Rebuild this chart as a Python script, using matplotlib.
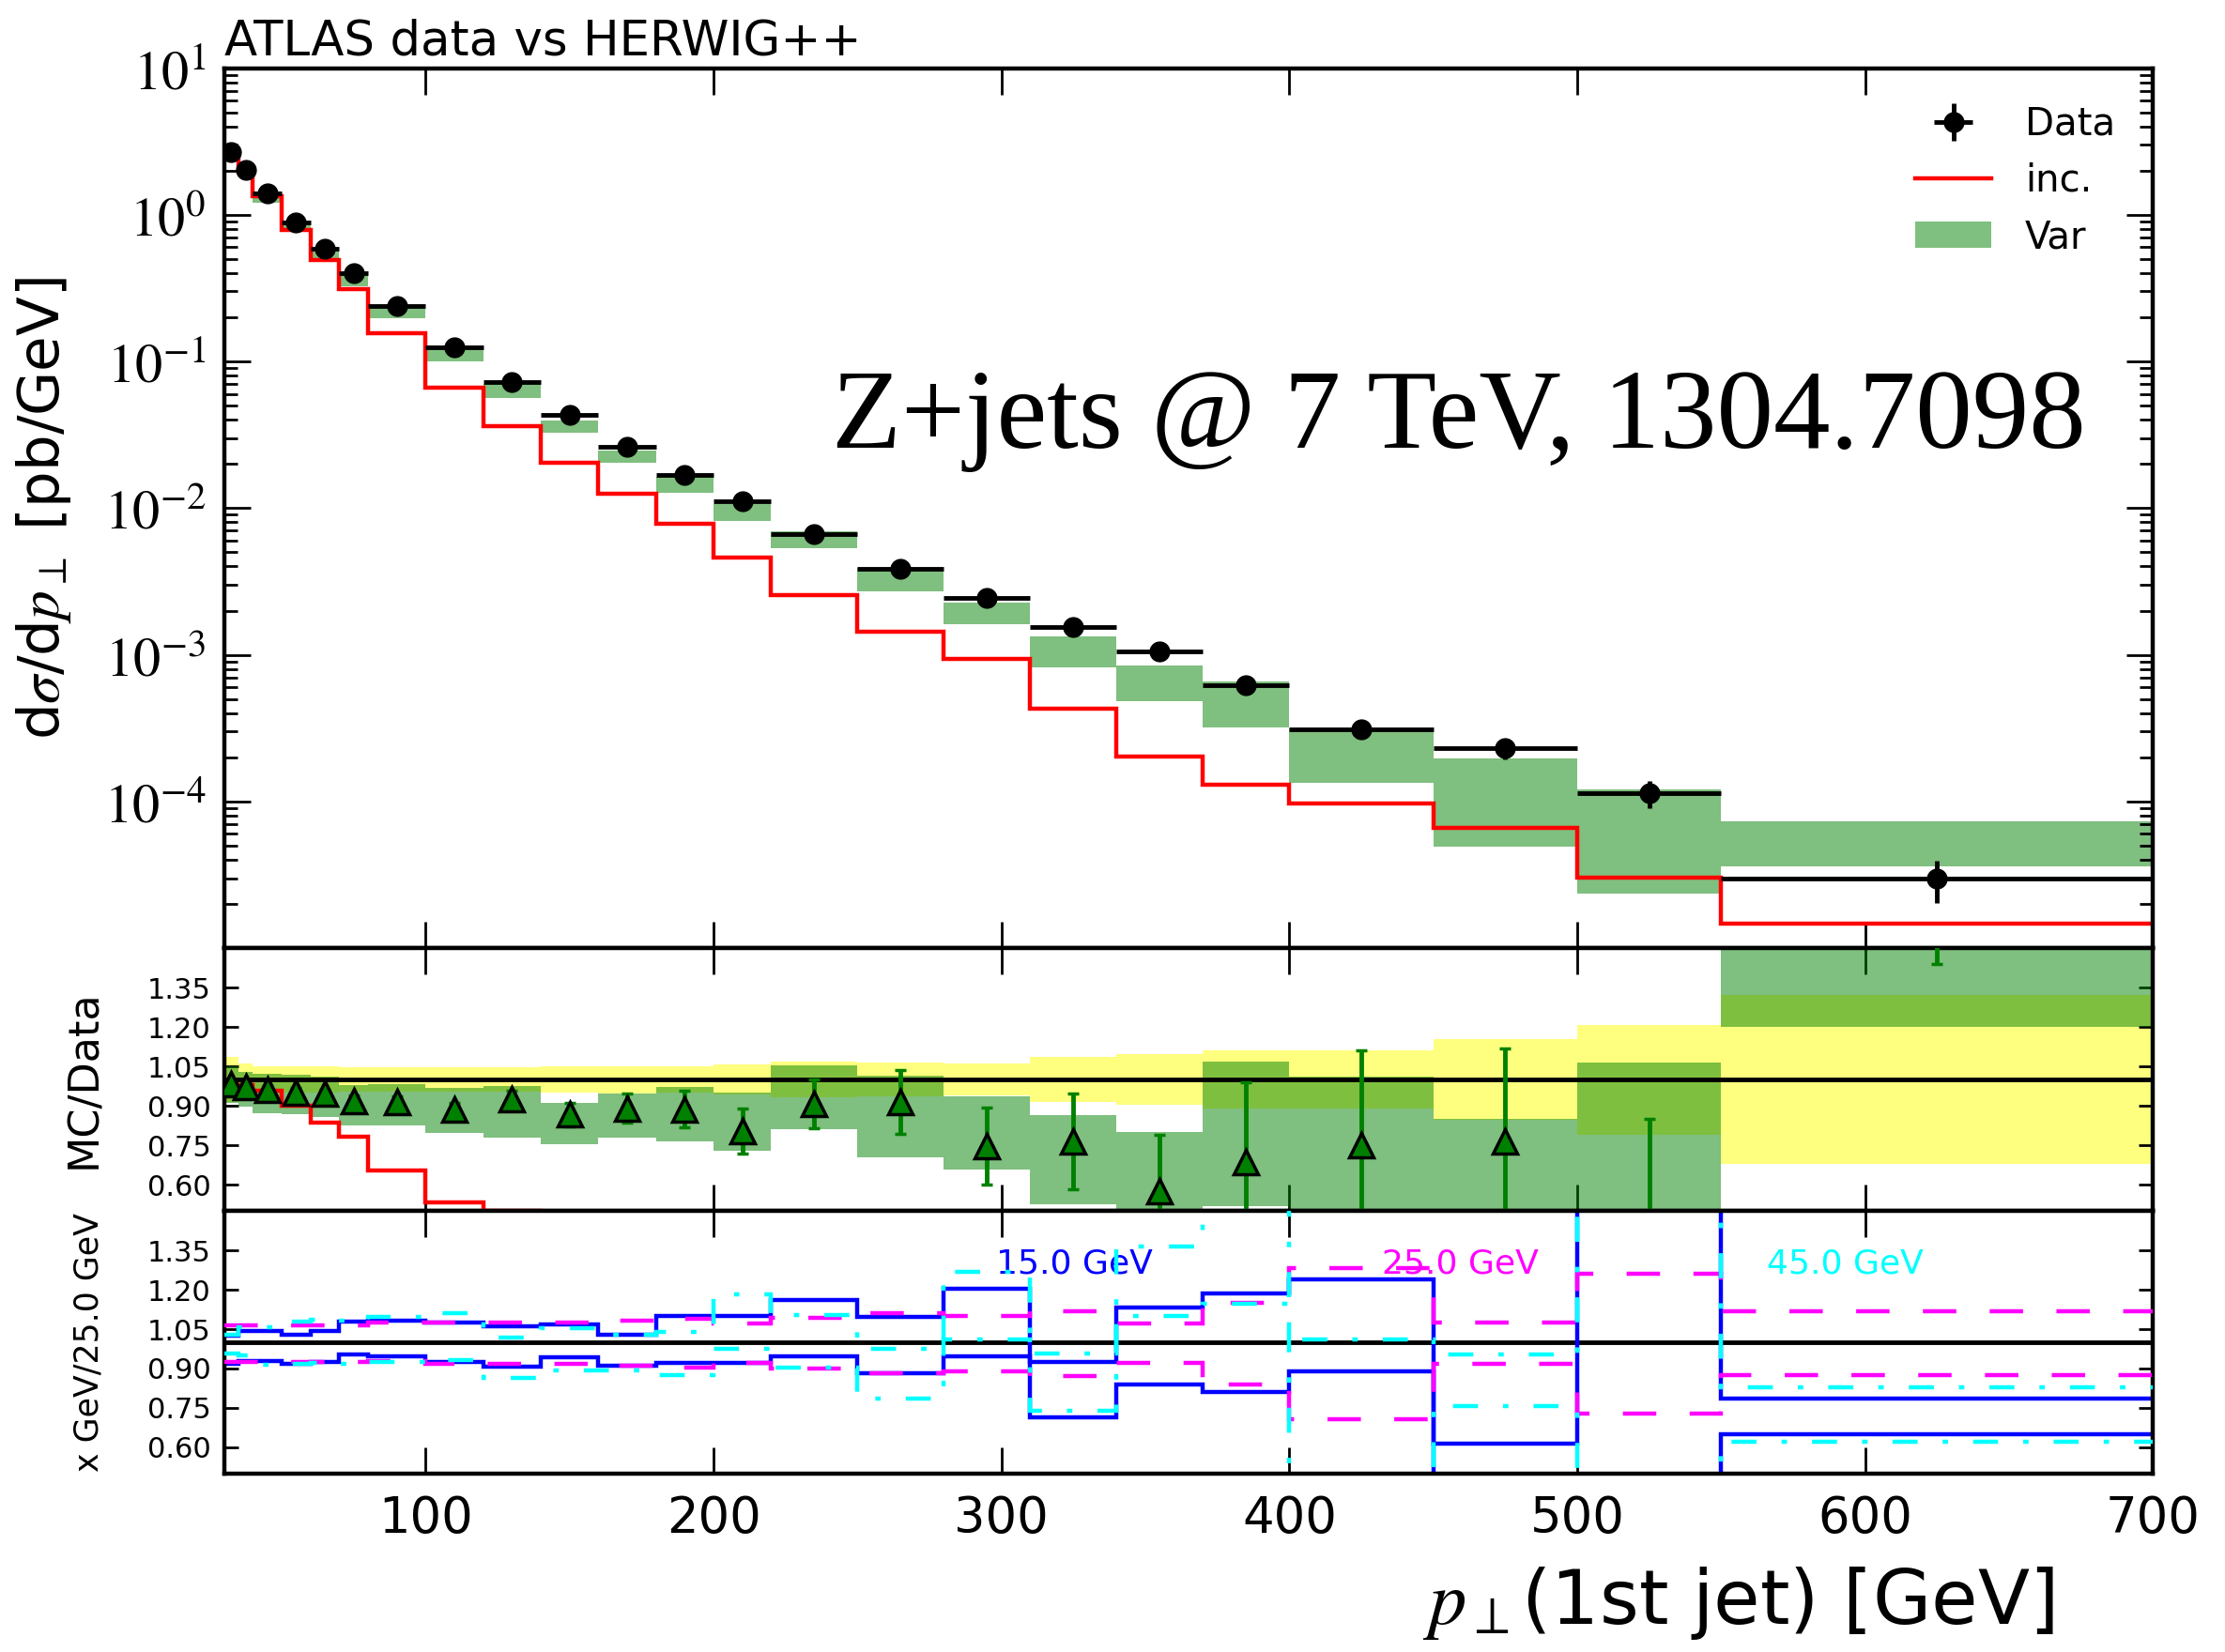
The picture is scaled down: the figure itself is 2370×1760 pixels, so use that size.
import numpy as np
import matplotlib
matplotlib.use('Agg')
import matplotlib.pyplot as plt
from matplotlib.ticker import FixedLocator, FuncFormatter, LogLocator, NullFormatter

plt.rcParams['mathtext.fontset'] = 'stix'
plt.rcParams['font.family'] = ['DejaVu Sans']

# ---------------- data ----------------
edges = [30, 35, 40, 50, 60, 70, 80, 100, 120, 140, 160, 180, 200, 220, 250,
         280, 310, 340, 370, 400, 450, 500, 550, 700]

data_y = [2.66, 2.01, 1.39, 0.88, 0.586, 0.397, 0.238, 0.125, 0.0721, 0.0432,
          0.0261, 0.0167, 0.01114, 0.0066, 0.00384, 0.00244, 0.00155, 0.001054,
          0.00062, 0.000311, 0.00023, 0.0001137, 0.0000299]
data_relerr = [0.086, 0.060, 0.052, 0.050, 0.050, 0.045, 0.045, 0.045, 0.045, 0.050,
               0.052, 0.050, 0.057, 0.068, 0.064, 0.061, 0.085, 0.096, 0.112, 0.110,
               0.154, 0.209, 0.322]

inc_y = [2.60, 1.97, 1.33, 0.792, 0.489, 0.310, 0.1556, 0.0664, 0.0361, 0.0203,
         0.0125, 0.00785, 0.00458, 0.002566, 0.001432, 0.000933, 0.000430, 0.000202,
         0.000130, 0.0000967, 0.0000658, 0.0000303, 0.0000147]

# Var band, as ratio to data (low / high edges)
var_lo_ratio = [0.911, 0.896, 0.873, 0.867, 0.858, 0.825, 0.825, 0.798, 0.780, 0.754,
                0.780, 0.765, 0.730, 0.812, 0.705, 0.658, 0.526, 0.461, 0.518, 0.428,
                0.213, 0.206, 1.20]
var_hi_ratio = [1.050, 1.030, 1.020, 1.018, 1.011, 0.979, 0.982, 0.967, 0.976, 0.911,
                0.946, 0.973, 0.950, 1.054, 1.014, 0.935, 0.865, 0.800, 1.068, 1.011,
                0.852, 1.064, 2.45]

# Var central / data (triangles) and their errors
var_c_ratio = [0.982, 0.970, 0.962, 0.952, 0.945, 0.919, 0.914, 0.887, 0.926, 0.867,
               0.890, 0.887, 0.804, 0.908, 0.914, 0.746, 0.764, 0.574, 0.685, 0.75,
               0.764, 0.44, 1.73]
var_c_err = [0.010, 0.012, 0.012, 0.015, 0.017, 0.020, 0.022, 0.025, 0.030, 0.044,
             0.055, 0.070, 0.085, 0.094, 0.121, 0.146, 0.182, 0.216, 0.305, 0.361,
             0.355, 0.41, 0.29]

# scale variations (ratio to 25.0 GeV)
r15_up = [1.024, 1.042, 1.042, 1.027, 1.042, 1.077, 1.081, 1.074, 1.062, 1.069,
          1.030, 1.101, 1.101, 1.161, 1.095, 1.205, 0.926, 1.131, 1.185, 1.240,
          0.613, 1.70, 0.786]
r15_dn = [0.917, 0.929, 0.929, 0.919, 0.926, 0.952, 0.945, 0.926, 0.908, 0.943,
          0.911, 0.920, 0.920, 0.946, 0.881, 0.946, 0.714, 0.839, 0.812, 0.889,
          0.30, 0.30, 0.651]
r25_up = [1.065, 1.065, 1.065, 1.065, 1.065, 1.065, 1.074, 1.075, 1.075, 1.075,
          1.081, 1.089, 1.071, 1.093, 1.110, 1.099, 1.119, 1.071, 1.149, 1.283,
          1.074, 1.262, 1.117]
r25_dn = [0.925, 0.925, 0.925, 0.925, 0.925, 0.925, 0.929, 0.917, 0.917, 0.917,
          0.911, 0.905, 0.920, 0.899, 0.881, 0.890, 0.873, 0.920, 0.839, 0.708,
          0.917, 0.729, 0.874]
r45_up = [1.030, 1.057, 1.057, 1.077, 1.086, 1.081, 1.095, 1.110, 1.018, 1.054,
          1.030, 1.039, 1.181, 1.105, 0.976, 1.268, 0.958, 1.363, 1.70, 1.010,
          0.952, 1.70, 0.827]
r45_dn = [0.958, 0.950, 0.913, 0.917, 0.923, 0.917, 0.926, 0.931, 0.863, 0.893,
          0.893, 0.875, 0.976, 0.905, 0.786, 1.012, 0.738, 1.101, 1.146, 0.30,
          0.756, 0.30, 0.621]

yticks_ratio = [0.60, 0.75, 0.90, 1.05, 1.20, 1.35]
xticks = [100, 200, 300, 400, 500, 600, 700]

# ---------------- derived ----------------
e = np.array(edges, float)
cen = 0.5 * (e[1:] + e[:-1])
hw = 0.5 * (e[1:] - e[:-1])
dy = np.array(data_y)
rel = np.array(data_relerr)
inc = np.array(inc_y)
vlo = np.array(var_lo_ratio)
vhi = np.array(var_hi_ratio)

fig = plt.figure(figsize=(23.7, 17.6), dpi=100)
L, W = 0.1007, 0.8670
ax0 = fig.add_axes([L, 0.4261, W, 0.5327])
ax1 = fig.add_axes([L, 0.2670, W, 0.1591])
ax2 = fig.add_axes([L, 0.1080, W, 0.1590])

# ---- main panel ----
ax0.stairs(dy * vhi, e, baseline=dy * vlo, fill=True, color='green', alpha=0.5,
           lw=0, label='Var', zorder=1)
ax0.stairs(inc, e, baseline=None, color='red', lw=3.2, label='inc.', zorder=2)
ax0.errorbar(cen, dy, xerr=hw, yerr=dy * rel, fmt='o', color='black', ms=15,
             elinewidth=3.5, capsize=0, label='Data', zorder=3)
ax0.set_yscale('log')
ax0.set_xlim(30, 700)
ax0.set_ylim(1e-5, 10)
ax0.yaxis.set_major_locator(LogLocator(base=10, numticks=20))
ax0.yaxis.set_minor_locator(LogLocator(base=10, subs=np.arange(2, 10), numticks=20))


def logfmt(v, p):
    k = int(round(np.log10(v)))
    if k < -4:
        return ''
    return r'$10^{%d}$' % k


ax0.yaxis.set_major_formatter(FuncFormatter(logfmt))
ax0.yaxis.set_minor_formatter(NullFormatter())
ax0.set_ylabel(r'd$\sigma$/d$p_\perp$ [pb/GeV]', fontsize=44)
ax0.yaxis.set_label_coords(-0.078, 0.5)
ax0.set_title('ATLAS data vs HERWIG++', loc='left', fontsize=37, pad=10)
ax0.text(0.965, 0.60, 'Z+jets @ 7 TeV, 1304.7098', transform=ax0.transAxes,
         ha='right', va='center', fontsize=87, family='Liberation Serif')
h, l = ax0.get_legend_handles_labels()
order = [l.index('Data'), l.index('inc.'), l.index('Var')]
ax0.legend([h[i] for i in order], [l[i] for i in order], loc='upper right',
           frameon=False, fontsize=29, handlelength=2.0, borderaxespad=0.6,
           labelspacing=0.5, handletextpad=0.9)

# ---- ratio panel ----
ax1.stairs(1 + rel, e, baseline=1 - rel, fill=True, color='yellow', alpha=0.5, lw=0, zorder=1)
ax1.stairs(vhi, e, baseline=vlo, fill=True, color='green', alpha=0.5, lw=0, zorder=2)
ax1.axhline(1.0, color='black', lw=3.5, zorder=3)
ax1.stairs(inc / dy, e, baseline=None, color='red', lw=3.2, zorder=4)
ax1.errorbar(cen, var_c_ratio, yerr=var_c_err, fmt='^', mfc='green', mec='black',
             mew=2.5, ms=19, ecolor='green', elinewidth=3.5, capsize=4, capthick=3, zorder=5)
ax1.set_ylabel('MC/Data', fontsize=32)
ax1.yaxis.set_label_coords(-0.062, 0.5)

# ---- variation panel ----
ax2.axhline(1.0, color='black', lw=3.5, zorder=1)
ax2.stairs(r15_up, e, baseline=None, color='blue', lw=3.2, zorder=2)
ax2.stairs(r15_dn, e, baseline=None, color='blue', lw=3.2, zorder=2)
ax2.stairs(r25_up, e, baseline=None, color='magenta', lw=3.2, ls=(0, (8, 8)), zorder=3)
ax2.stairs(r25_dn, e, baseline=None, color='magenta', lw=3.2, ls=(0, (8, 8)), zorder=3)
ax2.stairs(r45_up, e, baseline=None, color='cyan', lw=3.2, ls=(0, (6, 6, 1.3, 6)), zorder=4)
ax2.stairs(r45_dn, e, baseline=None, color='cyan', lw=3.2, ls=(0, (6, 6, 1.3, 6)), zorder=4)
ax2.text(0.40, 0.80, '15.0 GeV', color='blue', transform=ax2.transAxes, fontsize=26,
         ha='left', va='center')
ax2.text(0.60, 0.80, '25.0 GeV', color='magenta', transform=ax2.transAxes, fontsize=26,
         ha='left', va='center')
ax2.text(0.80, 0.80, '45.0 GeV', color='cyan', transform=ax2.transAxes, fontsize=26,
         ha='left', va='center')
ax2.set_ylabel('x GeV/25.0 GeV', fontsize=25)
ax2.yaxis.set_label_coords(-0.062, 0.5)
fig.text(0.923, 0.017, r'$p_\perp$(1st jet) [GeV]', ha='right', va='baseline', fontsize=58)

for ax in (ax1, ax2):
    ax.set_xlim(30, 700)
    ax.set_ylim(0.5, 1.5)
    ax.yaxis.set_major_locator(FixedLocator(yticks_ratio))
    ax.set_yticklabels(['%.2f' % t for t in yticks_ratio], fontsize=22)
    ax.tick_params(axis='y', which='major', length=11, pad=10)

for ax in (ax0, ax1, ax2):
    ax.xaxis.set_major_locator(FixedLocator(xticks))
    ax.tick_params(which='both', direction='in', top=True, right=True, width=2)
    ax.tick_params(axis='x', which='major', length=20)
    for s in ax.spines.values():
        s.set_linewidth(3.2)

ax0.tick_params(axis='y', which='major', length=20, pad=14, labelsize=42)
ax0.tick_params(axis='y', which='minor', length=10)
ax0.tick_params(axis='x', labelbottom=False)
ax1.tick_params(axis='x', labelbottom=False)
ax2.tick_params(axis='x', labelsize=38, pad=16)

fig.savefig('out.png', dpi=100)
